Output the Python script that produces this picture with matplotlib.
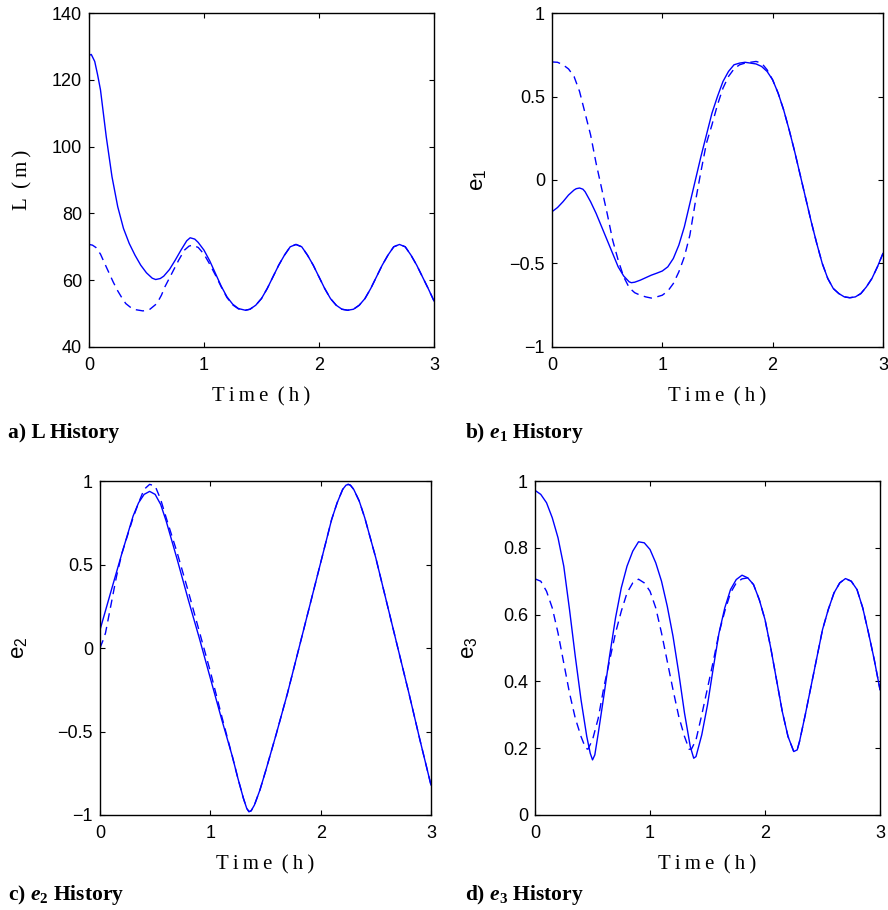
import matplotlib
matplotlib.use('Agg')
import matplotlib.pyplot as plt
import numpy as np

plt.rcParams['font.family'] = 'Liberation Sans'
plt.rcParams['mathtext.fontset'] = 'custom'
plt.rcParams['mathtext.rm'] = 'Liberation Serif'
plt.rcParams['mathtext.it'] = 'Liberation Serif:italic'
plt.rcParams['mathtext.bf'] = 'Liberation Serif:bold'
plt.rcParams['mathtext.bfit'] = 'Liberation Serif:italic:bold'

# ---- a) L history (m) ----
t_L = [0.00, 0.02, 0.05, 0.075, 0.10, 0.125, 0.15, 0.20, 0.25, 0.30, 0.35, 0.40, 0.45, 0.50, 0.55, 0.58,
       0.62, 0.65, 0.70, 0.75, 0.80, 0.85, 0.88, 0.92, 0.95, 1.00, 1.05, 1.10, 1.15, 1.20, 1.25, 1.30,
       1.36, 1.40, 1.45, 1.50, 1.55, 1.60, 1.65, 1.70, 1.75, 1.80, 1.85, 1.90, 1.95, 2.00, 2.05, 2.10,
       2.15, 2.20, 2.25, 2.30, 2.35, 2.40, 2.45, 2.50, 2.55, 2.60, 2.65, 2.70, 2.75, 2.80, 2.85, 2.90,
       2.95, 3.00]
L_act = [127.3, 127.6, 125.5, 121.5, 117.0, 110.0, 103.0, 91.0, 82.0, 75.5, 71.0, 67.5, 64.5, 62.2, 60.6, 60.2,
         60.5, 61.2, 63.2, 66.0, 69.0, 71.8, 72.7, 72.3, 71.3, 69.0, 65.8, 62.0, 58.2, 55.0, 52.8, 51.5,
         51.0, 51.3, 52.5, 54.5, 57.5, 61.0, 64.5, 67.5, 70.0, 70.7, 70.0, 67.5, 64.5, 61.0, 57.5, 54.5,
         52.5, 51.3, 51.0, 51.3, 52.5, 54.5, 57.5, 61.0, 64.5, 67.5, 70.0, 70.7, 70.0, 67.5, 64.5, 61.0,
         57.5, 53.8]
t_L_ref = [0.00, 0.03, 0.06, 0.10, 0.15, 0.21, 0.25, 0.29, 0.32, 0.36, 0.40, 0.47, 0.53, 0.59, 0.63, 0.66,
           0.72, 0.78, 0.83, 0.87, 0.90, 0.95, 1.00, 1.05, 1.10, 1.15, 1.20, 1.25, 1.30, 1.36]
L_ref = [70.7, 70.5, 69.8, 67.8, 64.0, 59.5, 56.8, 54.5, 53.0, 51.9, 51.2, 50.8, 51.3, 53.0, 55.5, 58.0,
         62.0, 66.0, 69.0, 70.2, 70.5, 69.8, 67.8, 64.8, 61.5, 58.0, 54.8, 52.6, 51.4, 51.0]

# ---- b) e1 history ----
t_e1 = [0.00, 0.05, 0.10, 0.15, 0.20, 0.22, 0.25, 0.28, 0.30, 0.35, 0.40, 0.45, 0.50, 0.55, 0.60, 0.65,
        0.70, 0.72, 0.75, 0.80, 0.85, 0.90, 0.95, 1.00, 1.05, 1.10, 1.15, 1.20, 1.25, 1.30, 1.35, 1.40,
        1.45, 1.50, 1.55, 1.60, 1.65, 1.70, 1.75, 1.80, 1.85, 1.90, 1.95, 2.00, 2.05, 2.10, 2.15, 2.20,
        2.25, 2.30, 2.35, 2.40, 2.45, 2.50, 2.55, 2.60, 2.65, 2.70, 2.75, 2.80, 2.85, 2.90, 2.95, 3.00]
e1_act = [-0.19, -0.165, -0.13, -0.09, -0.06, -0.052, -0.048, -0.055, -0.07, -0.13, -0.20, -0.28, -0.36, -0.44,
          -0.52, -0.575, -0.61, -0.615, -0.612, -0.60, -0.585, -0.57, -0.558, -0.545, -0.52, -0.47, -0.39, -0.28,
          -0.14, 0.0, 0.14, 0.27, 0.40, 0.50, 0.59, 0.65, 0.69, 0.70, 0.705, 0.70, 0.695, 0.68, 0.65, 0.60,
          0.52, 0.42, 0.30, 0.17, 0.03, -0.11, -0.25, -0.38, -0.50, -0.59, -0.65, -0.68, -0.70, -0.705, -0.70,
          -0.68, -0.64, -0.59, -0.52, -0.44]
t_e1_ref = [0.00, 0.05, 0.10, 0.15, 0.20, 0.25, 0.30, 0.35, 0.40, 0.45, 0.50, 0.55, 0.60, 0.65, 0.70, 0.75,
            0.80, 0.85, 0.90, 0.95, 1.00, 1.05, 1.10, 1.15, 1.20, 1.25, 1.30, 1.35, 1.40, 1.45, 1.50, 1.55,
            1.60, 1.65, 1.70, 1.75, 1.80, 1.85, 1.90, 1.95]
e1_ref = [0.707, 0.705, 0.69, 0.665, 0.62, 0.53, 0.40, 0.27, 0.10, -0.05, -0.20, -0.36, -0.48, -0.58, -0.645,
          -0.675, -0.69, -0.70, -0.707, -0.70, -0.69, -0.665, -0.62, -0.55, -0.46, -0.33, -0.13, 0.05, 0.22,
          0.33, 0.45, 0.55, 0.62, 0.665, 0.69, 0.70, 0.705, 0.71, 0.70, 0.66]

# ---- c) e2 history ----
t_e2 = [0.00, 0.10, 0.20, 0.30, 0.35, 0.40, 0.45, 0.50, 0.55, 0.60, 0.70, 0.80, 0.90, 1.00, 1.10, 1.20,
        1.25, 1.30, 1.33, 1.35, 1.37, 1.40, 1.45, 1.50, 1.60, 1.70, 1.80, 1.90, 2.00, 2.10, 2.15, 2.20,
        2.23, 2.25, 2.27, 2.30, 2.35, 2.40, 2.50, 2.60, 2.70, 2.80, 2.90, 3.00]
e2_act = [0.108, 0.34, 0.57, 0.79, 0.87, 0.92, 0.938, 0.92, 0.86, 0.76, 0.53, 0.29, 0.06, -0.18, -0.42, -0.65,
          -0.78, -0.90, -0.96, -0.98, -0.975, -0.94, -0.85, -0.74, -0.51, -0.27, -0.01, 0.25, 0.51, 0.77, 0.87,
          0.95, 0.975, 0.98, 0.975, 0.95, 0.88, 0.78, 0.54, 0.27, 0.0, -0.27, -0.55, -0.82]
t_e2_ref = [0.00, 0.03, 0.05, 0.10, 0.15, 0.20, 0.30, 0.35, 0.40, 0.45, 0.50, 0.55, 0.60, 0.70, 0.80, 0.90,
            1.00, 1.10, 1.20]
e2_ref = [0.0, 0.05, 0.09, 0.26, 0.43, 0.57, 0.78, 0.87, 0.95, 0.98, 0.97, 0.89, 0.78, 0.57, 0.34, 0.10,
          -0.14, -0.40, -0.65]

# ---- d) e3 history ----
t_e3 = [0.00, 0.05, 0.10, 0.15, 0.20, 0.25, 0.30, 0.35, 0.40, 0.45, 0.48, 0.50, 0.52, 0.55, 0.60, 0.65,
        0.70, 0.75, 0.80, 0.85, 0.90, 0.95, 1.00, 1.05, 1.10, 1.15, 1.20, 1.25, 1.30, 1.35, 1.38, 1.40,
        1.45, 1.50, 1.55, 1.60, 1.65, 1.70, 1.75, 1.80, 1.85, 1.90, 1.95, 2.00, 2.05, 2.10, 2.15, 2.20,
        2.25, 2.28, 2.30, 2.35, 2.40, 2.45, 2.50, 2.55, 2.60, 2.65, 2.70, 2.75, 2.80, 2.85, 2.90, 2.95, 3.00]
e3_act = [0.972, 0.96, 0.935, 0.89, 0.83, 0.745, 0.615, 0.475, 0.345, 0.235, 0.185, 0.165, 0.18, 0.245, 0.36,
          0.48, 0.59, 0.68, 0.745, 0.79, 0.818, 0.815, 0.795, 0.755, 0.70, 0.625, 0.535, 0.425, 0.305, 0.205,
          0.17, 0.175, 0.24, 0.33, 0.44, 0.545, 0.62, 0.675, 0.705, 0.718, 0.71, 0.69, 0.645, 0.585, 0.50,
          0.405, 0.31, 0.235, 0.19, 0.195, 0.22, 0.30, 0.385, 0.47, 0.555, 0.615, 0.665, 0.695, 0.708, 0.70,
          0.675, 0.62, 0.545, 0.465, 0.375]
t_e3_ref = [0.00, 0.05, 0.10, 0.15, 0.20, 0.25, 0.30, 0.35, 0.40, 0.44, 0.46, 0.50, 0.55, 0.60, 0.65, 0.70,
            0.75, 0.80, 0.85, 0.90, 0.95, 1.00, 1.05, 1.10, 1.15, 1.20, 1.25, 1.30, 1.34, 1.36, 1.40, 1.45,
            1.50, 1.55, 1.60, 1.65, 1.70, 1.75, 1.80]
e3_ref = [0.707, 0.70, 0.67, 0.62, 0.545, 0.455, 0.365, 0.29, 0.235, 0.20, 0.197, 0.225, 0.29, 0.385, 0.465,
          0.545, 0.61, 0.665, 0.695, 0.706, 0.695, 0.67, 0.62, 0.545, 0.46, 0.375, 0.295, 0.235, 0.197, 0.197,
          0.225, 0.30, 0.38, 0.46, 0.545, 0.61, 0.665, 0.695, 0.707]


def tail(t_ref, y_ref, t_act, y_act):
	# after the transient the reference follows the actual orbit
	t_ref = list(t_ref)
	y_ref = list(y_ref)
	for t, y in zip(t_act, y_act):
		if t > t_ref[-1] + 1e-9:
			t_ref.append(t)
			y_ref.append(y)
	return t_ref, y_ref


ts = '\u2009'
panels = [
	dict(rect=[0.1002, 0.6187, 0.3885, 0.367], t=t_L, y=L_act, tr=t_L_ref, yr=L_ref,
		 ylim=(40, 140), yticks=[40, 60, 80, 100, 120, 140], ylab='L' + ts + ' (' + ts + 'm' + ts + ')', serif=True,
		 lx=-0.165, cap='a) L History', cx=0.009, cy=0.519),
	dict(rect=[0.6216, 0.6187, 0.3727, 0.367], t=t_e1, y=e1_act, tr=t_e1_ref, yr=e1_ref,
		 ylim=(-1, 1), yticks=[-1, -0.5, 0, 0.5, 1], ylab=r'$\mathregular{e_1}$', serif=False,
		 lx=-0.19, cap=r'b) $\mathbfit{e}_{\mathbf{1}}$ History', cx=0.524, cy=0.519),
	dict(rect=[0.1126, 0.1044, 0.3727, 0.367], t=t_e2, y=e2_act, tr=t_e2_ref, yr=e2_ref,
		 ylim=(-1, 1), yticks=[-1, -0.5, 0, 0.5, 1], ylab=r'$\mathregular{e_2}$', serif=False,
		 lx=-0.21, cap=r'c) $\mathbfit{e}_{\mathbf{2}}$ History', cx=0.009, cy=0.011),
	dict(rect=[0.6025, 0.1044, 0.3885, 0.367], t=t_e3, y=e3_act, tr=t_e3_ref, yr=e3_ref,
		 ylim=(0, 1), yticks=[0, 0.2, 0.4, 0.6, 0.8, 1], ylab=r'$\mathregular{e_3}$', serif=False,
		 lx=-0.16, cap=r'd) $\mathbfit{e}_{\mathbf{3}}$ History', cx=0.524, cy=0.011),
]

xlab = ts.join('Time') + ts + ' (' + ts + 'h' + ts + ')'
serif = ['Liberation Serif', 'DejaVu Serif']

fig = plt.figure(figsize=(8.88, 9.10), dpi=100)
for p in panels:
	ax = fig.add_axes(p['rect'])
	ax.plot(p['t'], p['y'], color='#0000ff', lw=1.0)
	tr, yr = tail(p['tr'], p['yr'], p['t'], p['y'])
	ax.plot(tr, yr, color='#0000ff', lw=1.0, dashes=(6, 4))
	ax.set_xlim(0, 3)
	ax.set_ylim(*p['ylim'])
	ax.set_xticks([0, 1, 2, 3])
	ax.set_yticks(p['yticks'])
	ax.set_yticklabels([('%g' % v).replace('-', '\u2212') for v in p['yticks']])
	ax.tick_params(direction='in', top=True, right=True, length=3.5, width=0.8, labelsize=13)
	ax.tick_params(axis='x', pad=7.5)
	ax.tick_params(axis='y', pad=5)
	for s in ax.spines.values():
		s.set_linewidth(1.0)
	ax.set_xlabel(xlab, family=serif, fontsize=15)
	ax.xaxis.set_label_coords(0.5, -0.12)
	if p['serif']:
		ax.set_ylabel(p['ylab'], family=serif, fontsize=15)
	else:
		ax.set_ylabel(p['ylab'], fontsize=16)
	ax.yaxis.set_label_coords(p['lx'], 0.5)
	fig.text(p['cx'], p['cy'], p['cap'], family='Liberation Serif', fontweight='bold', fontsize=15.5,
			 va='baseline', ha='left')

fig.savefig('out.png', dpi=100)
